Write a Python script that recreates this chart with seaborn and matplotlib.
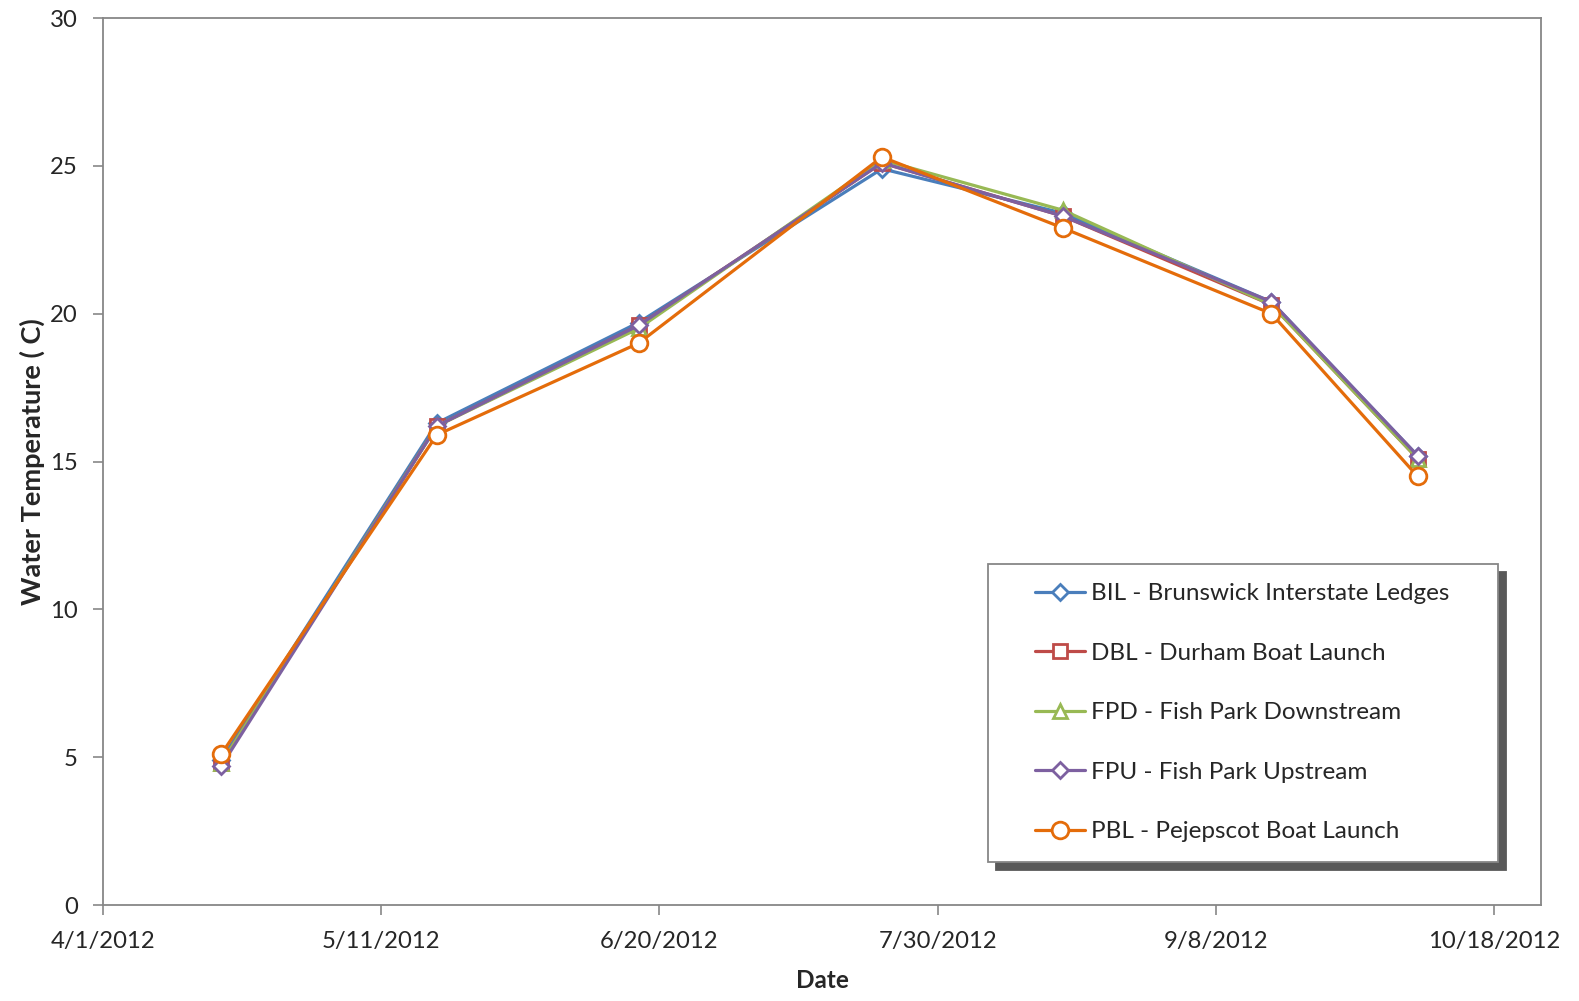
import matplotlib
matplotlib.use("Agg")
import matplotlib.pyplot as plt
from matplotlib.legend_handler import HandlerLine2D
import pandas as pd
import seaborn as sns

dates = ["2012-04-18", "2012-05-19", "2012-06-17", "2012-07-22",
         "2012-08-17", "2012-09-16", "2012-10-07"]
bil = [4.9, 16.3, 19.7, 24.9, 23.4, 20.4, 15.2]
dbl = [4.8, 16.2, 19.6, 25.1, 23.3, 20.3, 15.1]
fpd = [4.8, 16.2, 19.5, 25.2, 23.5, 20.3, 15.1]
fpu = [4.7, 16.2, 19.6, 25.1, 23.3, 20.4, 15.2]
pbl = [5.1, 15.9, 19.0, 25.3, 22.9, 20.0, 14.5]
series_names = ["BIL - Brunswick Interstate Ledges", "DBL - Durham Boat Launch",
                "FPD - Fish Park Downstream", "FPU - Fish Park Upstream",
                "PBL - Pejepscot Boat Launch"]
tick_dates = ["2012-04-01", "2012-05-11", "2012-06-20", "2012-07-30",
              "2012-09-08", "2012-10-18"]
tick_labels = ["4/1/2012", "5/11/2012", "6/20/2012", "7/30/2012", "9/8/2012", "10/18/2012"]
y_ticks = [0, 5, 10, 15, 20, 25, 30]

colors = ["#4A7EBB", "#BE4B48", "#98B954", "#7D60A0", "#E46C0A"]
markers = ["D", "s", "^", "D", "o"]
msizes = [8, 10, 10, 8, 12]

sns.set_theme(style="white")
plt.rcParams["font.family"] = ["Lato", "DejaVu Sans"]

rows = []
for name, vals in zip(series_names, [bil, dbl, fpd, fpu, pbl]):
    for d, v in zip(dates, vals):
        rows.append({"Date": pd.Timestamp(d), "Temp": v, "Site": name})
df = pd.DataFrame(rows)

fig = plt.figure(figsize=(15.79, 10.01), dpi=100)
ax = fig.add_axes([103/1579, 96/1001, (1541-103)/1579, (905-18)/1001])

for name, c, m, ms in zip(series_names, colors, markers, msizes):
    sub = df[df["Site"] == name]
    sns.lineplot(data=sub, x="Date", y="Temp", ax=ax, color=c, marker=m,
                 markersize=ms, markerfacecolor="white", markeredgecolor=c,
                 markeredgewidth=2, linewidth=2.3, label=name, legend=False)

ax.set_xlim(pd.Timestamp("2012-04-01"), pd.Timestamp("2012-10-24 18:00"))
ax.set_ylim(0, 30)
ax.set_xticks([pd.Timestamp(t) for t in tick_dates])
ax.set_xticklabels(tick_labels)
ax.set_yticks(y_ticks)
ax.tick_params(axis="both", labelsize=17.2, direction="out", length=7, width=1.2,
               color="#878787", bottom=True, left=True)
ax.tick_params(axis="x", pad=12)
ax.tick_params(axis="y", pad=11)
for sp in ax.spines.values():
    sp.set_color("#878787")
    sp.set_linewidth(1.3)
ax.set_xlabel("Date", fontsize=17.5, fontweight="bold", labelpad=12)
ax.set_ylabel("Water Temperature ( C)", fontsize=19.5, fontweight="bold", labelpad=4)

fs = 17.5
fs_px = fs * 100 / 72
xpad = 28 / fs_px
handles, labels = ax.get_legend_handles_labels()
hmap = {h: HandlerLine2D(xpad=xpad) for h in handles}
leg = ax.legend(handles, labels, loc="upper left",
                bbox_to_anchor=(0.6154, 0.2845, 0.3547, 0.1), mode="expand",
                fontsize=fs, frameon=True, fancybox=False,
                handlelength=(50 + 28) / fs_px, handletextpad=0.25,
                labelspacing=1.58, borderpad=0.8, borderaxespad=0,
                handler_map=hmap,
                shadow={"ox": 6, "oy": -6, "color": "#595959", "alpha": 1})
leg.get_frame().set_edgecolor("#878787")
leg.get_frame().set_linewidth(1.3)

fig.savefig("out.png", dpi=100)
